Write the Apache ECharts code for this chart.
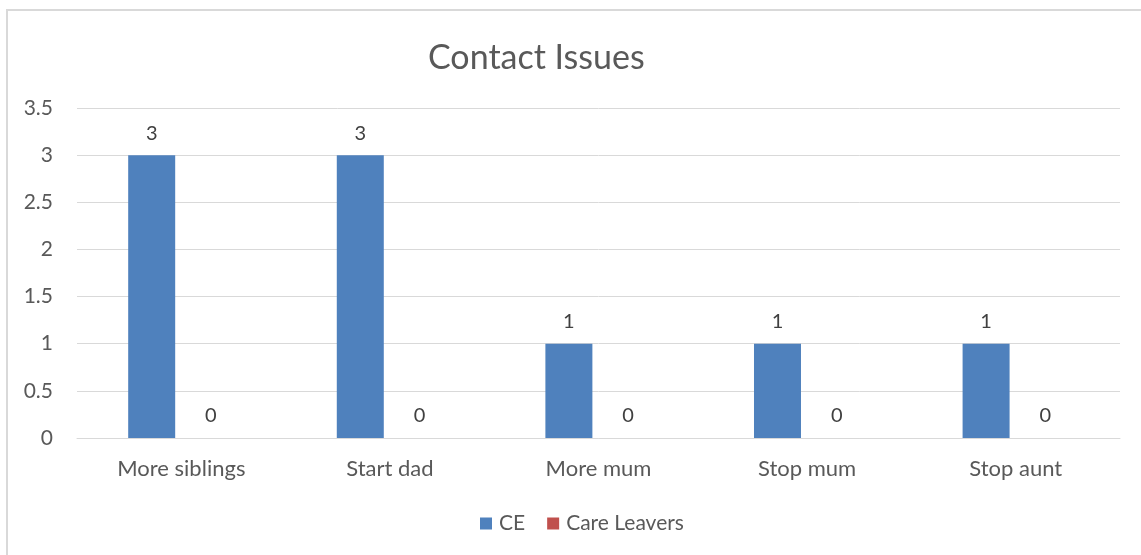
<!DOCTYPE html>
<html>
<head>
<meta charset="utf-8">
<script src="https://cdn.jsdelivr.net/npm/echarts@6/dist/echarts.min.js"></script>
<style>
  html, body { margin: 0; padding: 0; background: #fff; }
  #chart { width: 1141px; height: 555px; }
</style>
</head>
<body>
<div id="chart"></div>
<script>
// data
const categories = ['More siblings', 'Start dad', 'More mum', 'Stop mum', 'Stop aunt'];
const ceValues = [3, 3, 1, 1, 1];
const careLeaverValues = [0, 0, 0, 0, 0];
const seriesNames = ['CE', 'Care Leavers'];

const font = 'Lato, "Noto Sans", sans-serif';
const chart = echarts.init(document.getElementById('chart'));

chart.setOption({
    animation: false,
    textStyle: { fontFamily: font },
    // chart frame: only top and left edges show in the picture
    graphic: [{
        type: 'polyline',
        shape: { points: [[7, 555], [7, 10], [1141, 10]] },
        style: { fill: 'none', stroke: '#d9d9d9', lineWidth: 2 },
        silent: true
    }],
    title: {
        text: 'Contact Issues',
        left: 423,
        top: 36,
        textStyle: { fontFamily: font, fontSize: 34, fontWeight: 'normal', color: '#595959' }
    },
    legend: {
        data: seriesNames,
        top: 508,
        left: 475,
        icon: 'rect',
        itemWidth: 12,
        itemHeight: 12,
        itemGap: 22,
        textStyle: { fontFamily: font, fontSize: 21, color: '#595959', padding: [0, 0, 0, 2] }
    },
    grid: { left: 77, right: 21, top: 108, bottom: 117 },
    xAxis: {
        type: 'category',
        data: categories,
        axisLine: { lineStyle: { color: '#d9d9d9' } },
        axisTick: { show: false },
        axisLabel: { fontFamily: font, fontSize: 22, color: '#595959', margin: 20 }
    },
    yAxis: {
        type: 'value',
        min: 0,
        max: 3.5,
        interval: 0.5,
        axisLine: { show: false },
        axisTick: { show: false },
        splitLine: { lineStyle: { color: '#d9d9d9' } },
        axisLabel: { fontFamily: font, fontSize: 21, color: '#595959', margin: 24 }
    },
    series: [
        {
            name: seriesNames[0],
            type: 'bar',
            data: ceValues,
            barWidth: 47,
            barGap: '26%',
            itemStyle: { color: '#4f81bd' },
            label: { show: true, position: 'top', distance: 12, fontFamily: font, fontSize: 20, color: '#404040' }
        },
        {
            name: seriesNames[1],
            type: 'bar',
            data: careLeaverValues,
            barWidth: 47,
            itemStyle: { color: '#c0504d' },
            label: { show: true, position: 'top', distance: 12, fontFamily: font, fontSize: 20, color: '#404040' }
        }
    ]
});
</script>
</body>
</html>
